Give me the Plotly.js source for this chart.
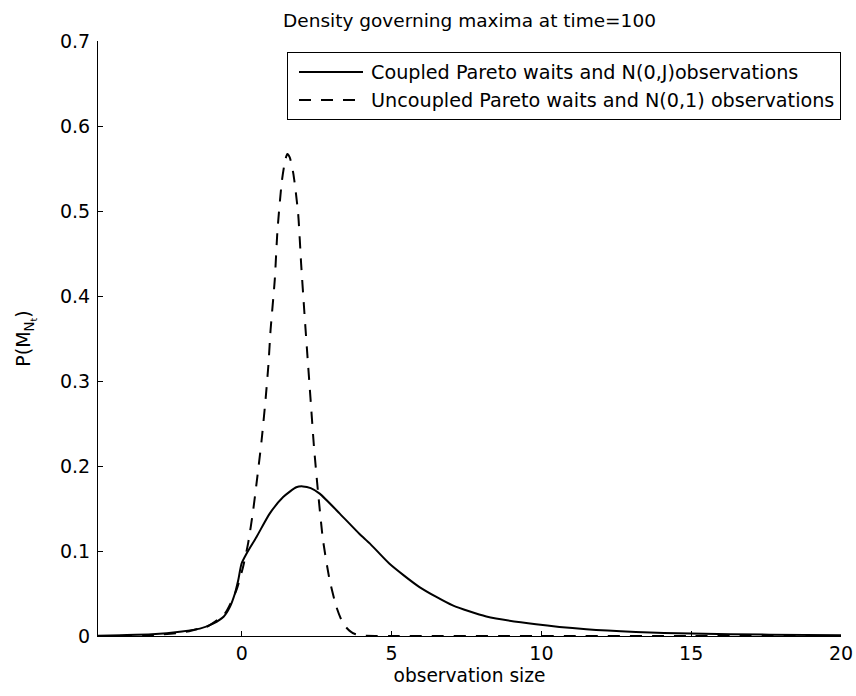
<!DOCTYPE html>
<html>
<head>
<meta charset="utf-8">
<script src="https://cdn.plot.ly/plotly-3.0.1.min.js"></script>
<style>html,body{margin:0;padding:0;background:#fff;}#chart{width:856px;height:696px;}</style>
</head>
<body>
<div id="chart"></div>
<script>
// Coupled Pareto waits and N(0,J) observations (solid)
const coupledX = [-4.8, -4, -3, -2, -1.4, -0.96, -0.6, -0.4, -0.23, -0.12, -0.01, 0.16, 0.49, 0.93, 1.38, 1.82, 2.04, 2.3, 2.6, 3.27, 3.93, 4.27, 4.93, 5.93, 7.04, 8.16, 9.82, 11.5, 13.15, 15, 17.6, 20];
const coupledY = [0.0004, 0.001, 0.002, 0.0053, 0.0087, 0.0146, 0.023, 0.034, 0.05, 0.0655, 0.085, 0.097, 0.1165, 0.144, 0.1635, 0.175, 0.176, 0.174, 0.1675, 0.144, 0.12, 0.109, 0.085, 0.0576, 0.036, 0.023, 0.0138, 0.0079, 0.0047, 0.0028, 0.0016, 0.001];
// Uncoupled Pareto waits and N(0,1) observations (dashed)
const uncoupledX = [-4.8, -4, -3, -2, -1.5, -1.18, -0.57, -0.18, 0.04, 0.21, 0.38, 0.66, 0.8, 0.89, 0.96, 1.1, 1.19, 1.34, 1.45, 1.52, 1.6, 1.72, 1.88, 1.98, 2.09, 2.21, 2.29, 2.41, 2.54, 2.71, 2.93, 3.16, 3.38, 3.6, 3.8, 4.04, 4.5, 5, 10, 15, 20];
const uncoupledY = [0, 0.0002, 0.001, 0.004, 0.008, 0.0106, 0.026, 0.054, 0.081, 0.109, 0.148, 0.23, 0.281, 0.32, 0.36, 0.419, 0.477, 0.536, 0.56, 0.567, 0.563, 0.544, 0.497, 0.438, 0.38, 0.32, 0.281, 0.222, 0.171, 0.113, 0.066, 0.034, 0.0146, 0.006, 0.002, 0.0005, 0.0001, 0, 0, 0, 0];
const seriesNames = ['Coupled Pareto waits and N(0,J)observations', 'Uncoupled Pareto waits and N(0,1) observations'];
const xTicks = [0, 5, 10, 15, 20];
const yTicks = [0, 0.1, 0.2, 0.3, 0.4, 0.5, 0.6, 0.7];
const yTickText = ['0', '0.1', '0.2', '0.3', '0.4', '0.5', '0.6', '0.7'];

const font = 'DejaVu Sans, Verdana, sans-serif';
const traces = [
  {x: coupledX, y: coupledY, name: seriesNames[0], mode: 'lines', line: {color: '#000', width: 2, shape: 'spline', smoothing: 0.6}},
  {x: uncoupledX, y: uncoupledY, name: seriesNames[1], mode: 'lines', line: {color: '#000', width: 2, dash: '12px,10px', shape: 'spline', smoothing: 0.6}}
];
const layout = {
  width: 856, height: 696,
  margin: {l: 98, r: 15, t: 41, b: 60},
  paper_bgcolor: '#fff', plot_bgcolor: '#fff',
  font: {family: font, size: 19, color: '#000'},
  title: {text: 'Density governing maxima at time=100', font: {family: font, size: 18.5, color: '#000'},
    xref: 'paper', x: 0.5, xanchor: 'center', yref: 'container', y: 0.971, yanchor: 'middle'},
  xaxis: {range: [-4.8, 20], tickvals: xTicks, ticktext: xTicks.map(String), ticks: 'inside', ticklen: 5, tickcolor: '#000',
    showline: true, linecolor: '#000', linewidth: 1, showgrid: false, zeroline: false, mirror: false,
    ticklabelstandoff: 0, tickfont: {family: font, size: 19},
    title: {text: 'observation size', font: {family: font, size: 18.6}, standoff: 6}},
  yaxis: {range: [0, 0.7], tickvals: yTicks, ticktext: yTickText, ticks: 'inside', ticklen: 5, tickcolor: '#000',
    showline: true, linecolor: '#000', linewidth: 1, showgrid: false, zeroline: false, mirror: false,
    ticklabelstandoff: 3, tickfont: {family: font, size: 19},
    title: {text: 'P(M<sub>N<sub>t</sub></sub>)', font: {family: font, size: 19}, standoff: 24}},
  showlegend: true,
  legend: {x: 1, xanchor: 'right', y: 0.9815, yanchor: 'top', bordercolor: '#000', borderwidth: 1, bgcolor: '#fff',
    font: {family: font, size: 19.2, color: '#000'}, itemwidth: 73, tracegroupgap: 0}
};
Plotly.newPlot('chart', traces, layout, {displayModeBar: false, staticPlot: true}).then(function (gd) {
  // lengthen legend line samples to match the reference
  gd.querySelectorAll('.legend .legendlines path').forEach(function (p) {
    p.setAttribute('d', 'M11,0h64');
  });
});
</script>
</body>
</html>
